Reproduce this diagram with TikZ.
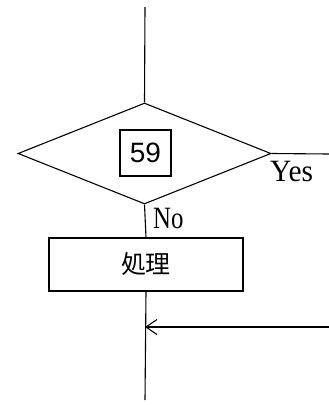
\documentclass[tikz,border=0pt]{standalone}
\usepackage{fontspec}
\setmainfont{Liberation Serif}
\newfontfamily\numfont{Liberation Sans}
\newfontfamily\cjk{Noto Sans CJK JP}
\usetikzlibrary{shapes.geometric,arrows.meta}
\begin{document}
\begin{tikzpicture}[x=1pt,y=-1pt,
  line/.style={draw=black,line width=1.1pt},
  lbl/.style={inner sep=0pt,anchor=base west,font=\fontsize{31}{34}\selectfont}]
\useasboundingbox (0,0) rectangle (329,405);
\node[line,shape=diamond,minimum width=253pt,minimum height=101pt,inner sep=0pt] (dec) at (144.5,153.5) {};
\node[line,minimum width=51pt,minimum height=46pt,inner sep=0pt,font=\numfont\fontsize{28}{30}\selectfont] (num) at (145.5,153) {59};
\node[line,minimum width=194pt,minimum height=53pt,inner sep=0pt,font=\cjk\fontsize{25}{28}\selectfont] (proc) at (146,264.5) {処理};
\coordinate (top) at (145,7);
\coordinate (yesend) at (329,154);
\coordinate (bot) at (145,400);
\coordinate (join) at (145,327);
\coordinate (inr) at (329,327);
\draw[line] (top) -- (dec.north);
\draw[line] (dec.east) -- (yesend);
\draw[line] (dec.south) -- (proc.north);
\draw[line] (proc.south) -- (bot);
\draw[line,-{Straight Barb[length=11pt,width=15pt]}] (inr) -- (join);
\node[lbl,xscale=0.95] (yes) at (270,181) {Yes};
\node[lbl,xscale=0.8] (no) at (153,228) {No};
\end{tikzpicture}
\end{document}
